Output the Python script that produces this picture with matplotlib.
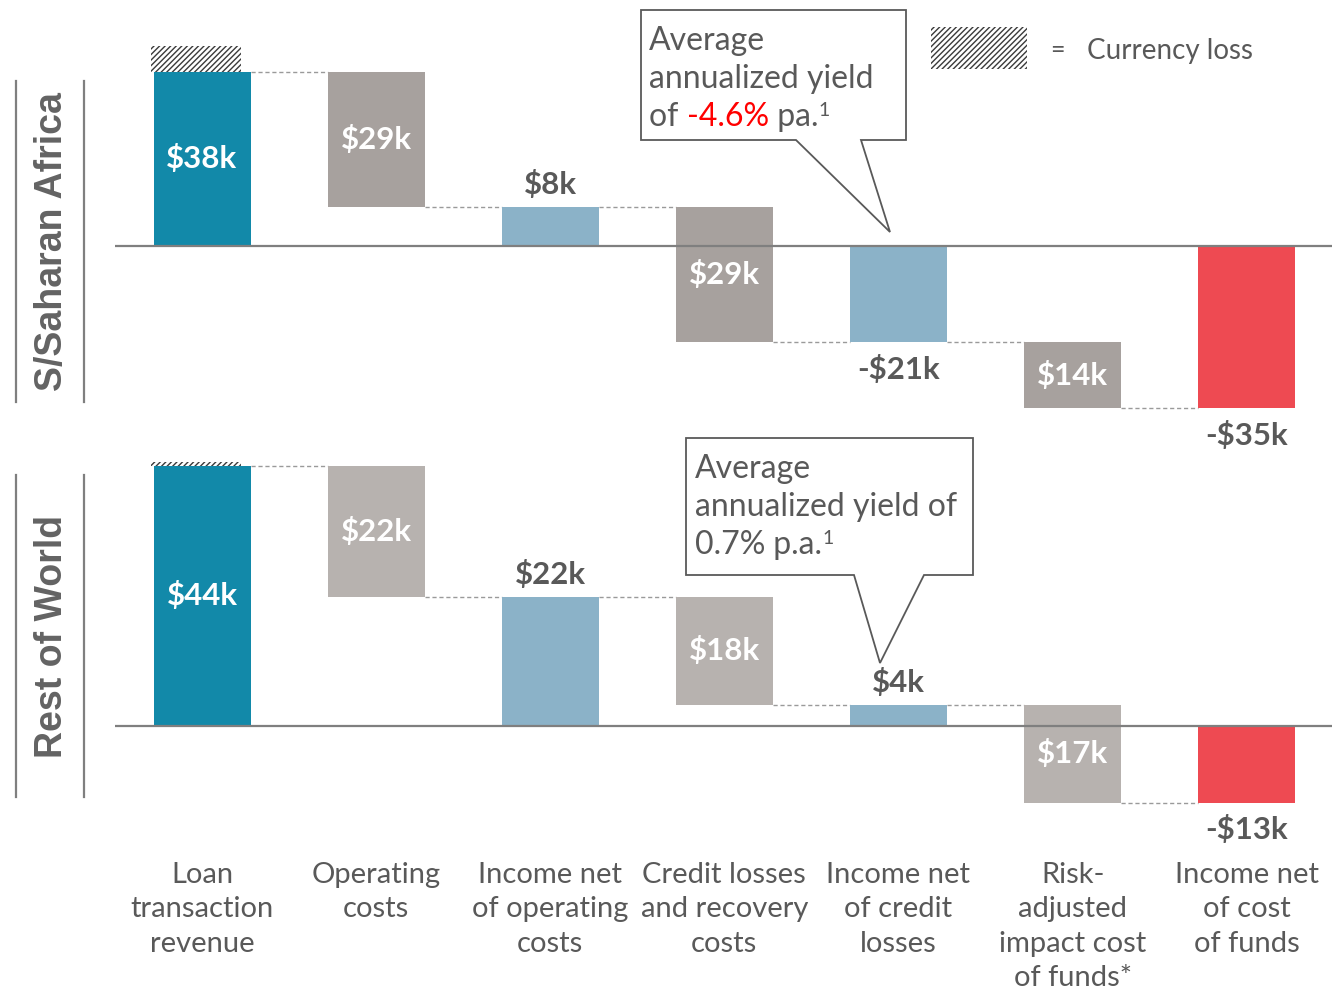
import matplotlib
matplotlib.use("Agg")
import matplotlib.pyplot as plt
from matplotlib.patches import Polygon, Rectangle
from matplotlib.transforms import blended_transform_factory

# ---------------- data ----------------
categories = ["Loan\ntransaction\nrevenue", "Operating\ncosts",
              "Income net\nof operating\ncosts", "Credit losses\nand recovery\ncosts",
              "Income net\nof credit\nlosses", "Risk-\nadjusted\nimpact cost\nof funds*",
              "Income net\nof cost\nof funds"]
kinds = ["start", "step", "total", "step", "total", "step", "total"]

ssa_changes = [37.7, -29.3, None, -29.2, None, -14.3, None]
ssa_labels = ["$38k", "$29k", "$8k", "$29k", "-$21k", "$14k", "-$35k"]
ssa_currency_loss = 5.6

row_changes = [44.1, -22.2, None, -18.3, None, -16.6, None]
row_labels = ["$44k", "$22k", "$22k", "$18k", "$4k", "$17k", "-$13k"]
row_currency_loss = 0.6

panel_names = ["S/Saharan Africa", "Rest of World"]
ssa_yield = "-4.6%"
row_yield = "0.7%"

# ---------------- style ----------------
W, H = 1332, 993
TEAL = "#1289A9"
BLUE = "#8BB2C8"
RED = "#EE4A52"
GRAY_TOP = "#A7A19E"
GRAY_BOT = "#B7B2AF"
TXT = "#595959"
LINE = "#7F7F7F"
FONT = ["Lato", "DejaVu Sans"]

plt.rcParams["font.family"] = FONT
plt.rcParams["hatch.linewidth"] = 1.0

fig = plt.figure(figsize=(W / 100, H / 100), dpi=100)


def P(x, y):
    return (x / W, 1 - y / H)


def waterfall(ax, changes, labels, currency_loss, gray):
    running = 0.0
    width = 0.557
    levels = []
    for i, (k, v) in enumerate(zip(kinds, changes)):
        if k == "start":
            bottom, top = 0.0, v
            running = v
            color = TEAL
        elif k == "step":
            bottom, top = min(running, running + v), max(running, running + v)
            running += v
            color = gray
        else:
            bottom, top = min(0, running), max(0, running)
            color = RED if i == len(kinds) - 1 else BLUE
        ax.bar(i, top - bottom, bottom=bottom, width=width, color=color,
               edgecolor="none", zorder=2)
        levels.append(running)
        if k == "total":
            if running >= 0:
                ax.annotate(labels[i], xy=(i, top), xytext=(0, 16),
                            textcoords="offset points", ha="center", va="center",
                            fontsize=22.5, fontweight="bold", color=TXT)
            else:
                ax.annotate(labels[i], xy=(i, bottom), xytext=(0, -19.5),
                            textcoords="offset points", ha="center", va="center",
                            fontsize=22.5, fontweight="bold", color=TXT)
        else:
            ax.text(i, (top + bottom) / 2, labels[i], ha="center", va="center",
                    fontsize=22.5, fontweight="bold", color="white", zorder=4)
        if k == "start":
            ax.bar(i - 0.035, currency_loss, bottom=top, width=0.52,
                   color="white", edgecolor="#3a3a3a", linewidth=0,
                   hatch="//////", zorder=2)
    for i in range(len(kinds) - 1):
        ax.hlines(levels[i], i + width / 2, i + 1 - width / 2, colors="#9a9a9a",
                  linewidth=1.0, linestyles=(0, (3, 2)), zorder=1)
    ax.axhline(0, color=LINE, linewidth=1.6, zorder=3)
    ax.set_xlim(-0.5, 6.49)
    ax.axis("off")


# axes placement (pixel-derived)
x0, x1 = 115, 1332
# top panel: zero at 246 px, 4.62 px per $k, spans 0..440 px
ax1 = fig.add_axes([x0 / W, 1 - 440 / H, (x1 - x0) / W, 440 / H])
ax1.set_ylim(-(440 - 246) / 4.62, 246 / 4.62)
waterfall(ax1, ssa_changes, ssa_labels, ssa_currency_loss, GRAY_TOP)

# bottom panel: zero at 726 px, 5.9 px per $k, spans 440..850 px
ax2 = fig.add_axes([x0 / W, 1 - 850 / H, (x1 - x0) / W, 410 / H])
ax2.set_ylim(-(850 - 726) / 5.9, (726 - 440) / 5.9)
waterfall(ax2, row_changes, row_labels, row_currency_loss, GRAY_BOT)

# category labels
tr = blended_transform_factory(ax2.transData, fig.transFigure)
for i, c in enumerate(categories):
    fig.text(i, 1 - 862 / H, c, transform=tr, ha="center", va="top",
             fontsize=21, color=TXT, linespacing=1.40)

# panel labels with bracket lines
for name, (ytop, ybot) in zip(panel_names, [(81, 402), (475, 797)]):
    for xl in (15.5, 84):
        fig.add_artist(plt.Line2D([xl / W, xl / W], [1 - ytop / H, 1 - ybot / H],
                                  transform=fig.transFigure, color=LINE, linewidth=1.6))
    fig.text(52 / W, 1 - (ytop + ybot) / 2 / H, name, rotation=90, ha="center",
             va="center", fontsize=27, fontweight="bold", color="#636363",
             family=["Liberation Sans", "DejaVu Sans"])


# callouts
def callout(box, base_l, base_r, tip, lines, x_text, y_lines, tail):
    l, t, r, b = box
    pts = [P(l, t), P(r, t), P(r, b), P(base_r, b), P(*tip), P(base_l, b), P(l, b)]
    fig.add_artist(Polygon(pts, closed=True, transform=fig.transFigure,
                           facecolor="white", edgecolor="#595959", linewidth=1.3,
                           zorder=5))
    for s, yy in zip(lines, y_lines[:-1]):
        fig.text(*P(x_text, yy), s, ha="left", va="center", fontsize=23,
                 color=TXT, zorder=6)
    pre, red, post = tail
    t1 = fig.text(*P(x_text, y_lines[-1]), pre, ha="left", va="center",
                  fontsize=23, color=TXT, zorder=6)
    prev = t1
    if red:
        prev = fig.add_artist(plt.Annotation(red, xy=(1, 0), xycoords=t1, ha="left",
                                             va="bottom", fontsize=23, color="#FF0000",
                                             zorder=6))
    t3 = fig.add_artist(plt.Annotation(post, xy=(1, 0), xycoords=prev, ha="left",
                                       va="bottom", fontsize=23, color=TXT, zorder=6))
    fig.add_artist(plt.Annotation("1", xy=(1, 0.42), xycoords=t3, ha="left",
                                  va="bottom", fontsize=14, color=TXT, zorder=6))


callout((641, 10, 906, 140), 796, 861, (890, 232),
        ["Average", "annualized yield"], 649, [41, 79, 117],
        ("of ", ssa_yield, " pa."))
callout((686, 438, 973, 575), 854, 924, (880, 663),
        ["Average", "annualized yield of"], 695, [469, 507, 545],
        (row_yield, "", " p.a."))

# legend
fig.add_artist(Rectangle(P(931, 69), 96 / W, 42 / H, transform=fig.transFigure,
                         facecolor="white", edgecolor="#3a3a3a", linewidth=0,
                         hatch="//////"))
fig.text(*P(1057, 51), "=", ha="center", va="center", fontsize=18, color=TXT)
fig.text(*P(1087, 51), "Currency loss", ha="left", va="center", fontsize=20, color=TXT)

fig.savefig("out.png", dpi=100)
